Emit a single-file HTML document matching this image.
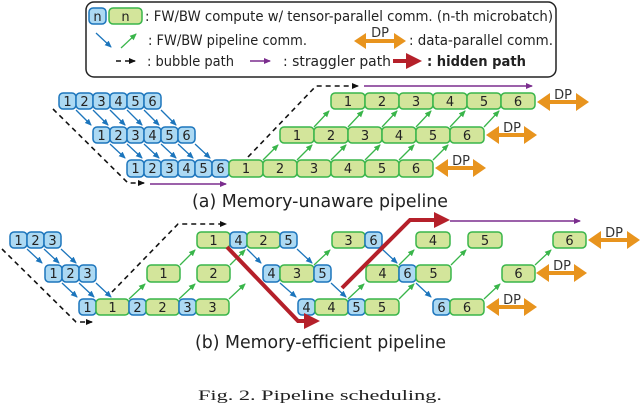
<!DOCTYPE html>
<html><head><meta charset="utf-8"><style>
html,body{margin:0;padding:0;background:#fff;width:640px;height:408px;overflow:hidden}
svg text{font-family:"DejaVu Sans","Liberation Sans",sans-serif}
.b{fill:#acd9f3;stroke:#1c75bc;stroke-width:1.5}
.g{fill:#d3e59b;stroke:#39b54a;stroke-width:1.5}
.t{font-size:13px;fill:#222;text-anchor:middle}
.ab{stroke:#1c75bc;stroke-width:1.3;fill:none;marker-end:url(#mb)}
.ag{stroke:#39b54a;stroke-width:1.3;fill:none;marker-end:url(#mg)}
.dp{fill:#e8941e}
.dpt{font-size:13px;fill:#333;text-anchor:middle}
.dash{stroke:#111;stroke-width:1.6;fill:none;stroke-dasharray:5 4;marker-end:url(#mk)}
.pu{stroke:#7b2d8e;stroke-width:1.4;fill:none;marker-end:url(#mp)}
.red{stroke:#b5202a;stroke-width:4;fill:none;stroke-linejoin:miter}
.lg{font-size:14px;fill:#222}
</style></head><body>
<svg width="640" height="408" viewBox="0 0 640 408" xmlns="http://www.w3.org/2000/svg">
<defs>
<marker id="mb" markerWidth="8" markerHeight="8" refX="6" refY="3" orient="auto" markerUnits="userSpaceOnUse"><path d="M0,0 L7,3 L0,6z" fill="#1c75bc"/></marker>
<marker id="mg" markerWidth="8" markerHeight="8" refX="6" refY="3" orient="auto" markerUnits="userSpaceOnUse"><path d="M0,0 L7,3 L0,6z" fill="#39b54a"/></marker>
<marker id="mk" markerWidth="8" markerHeight="8" refX="6" refY="3" orient="auto" markerUnits="userSpaceOnUse"><path d="M0,0 L7,3 L0,6z" fill="#111"/></marker>
<marker id="mp" markerWidth="8" markerHeight="8" refX="6" refY="3" orient="auto" markerUnits="userSpaceOnUse"><path d="M0,0 L7,3 L0,6z" fill="#7b2d8e"/></marker>
</defs>

<!-- Legend -->
<rect x="86" y="2" width="470" height="75" rx="8" fill="#fff" stroke="#222" stroke-width="1.5"/>
<rect class="b" x="89" y="8" width="17" height="16" rx="4"/><text class="t" x="97.5" y="21">n</text>
<rect class="g" x="109" y="8" width="33" height="16" rx="4"/><text class="t" x="125.5" y="21">n</text>
<text class="lg" x="145" y="21" textLength="408" lengthAdjust="spacingAndGlyphs">: FW/BW compute w/ tensor-parallel comm. (n-th microbatch)</text>
<line class="ab" x1="96" y1="33" x2="111" y2="47"/>
<line class="ag" x1="121" y1="48" x2="136" y2="34"/>
<text class="lg" x="148" y="45" textLength="159" lengthAdjust="spacingAndGlyphs">: FW/BW pipeline comm.</text>
<polygon class="dp" points="354,41 366,33 366,39 394,39 394,33 406,41 394,49 394,43 366,43 366,49"/>
<text class="dpt" x="380" y="37">DP</text>
<text class="lg" x="409" y="45" textLength="144" lengthAdjust="spacingAndGlyphs">: data-parallel comm.</text>
<line class="dash" x1="116" y1="61" x2="135" y2="61" stroke-dasharray="4 3"/>
<text class="lg" x="147" y="66" textLength="87" lengthAdjust="spacingAndGlyphs">: bubble path</text>
<line class="pu" x1="250" y1="61" x2="270" y2="61"/>
<text class="lg" x="283" y="66" textLength="108" lengthAdjust="spacingAndGlyphs">: straggler path</text>
<line x1="393" y1="61" x2="408" y2="61" stroke="#b5202a" stroke-width="4"/>
<polygon points="406,53 422,61 406,69" fill="#b5202a"/>
<text class="lg" x="427" y="66" font-weight="bold" textLength="99" lengthAdjust="spacingAndGlyphs">: hidden path</text>

<!-- (a) -->
<path class="dash" d="M53,109 L128,183 L144,183"/>
<line class="pu" x1="150" y1="184" x2="226" y2="184"/>
<path class="dash" d="M248,157 L316,86 L358,86"/>
<line class="pu" x1="364" y1="86" x2="532" y2="86"/>

<g>
<rect class="b" x="59" y="93" width="17" height="16" rx="4"/><text class="t" x="67.5" y="106">1</text>
<rect class="b" x="76" y="93" width="17" height="16" rx="4"/><text class="t" x="84.5" y="106">2</text>
<rect class="b" x="93" y="93" width="17" height="16" rx="4"/><text class="t" x="101.5" y="106">3</text>
<rect class="b" x="110" y="93" width="17" height="16" rx="4"/><text class="t" x="118.5" y="106">4</text>
<rect class="b" x="127" y="93" width="17" height="16" rx="4"/><text class="t" x="135.5" y="106">5</text>
<rect class="b" x="144" y="93" width="17" height="16" rx="4"/><text class="t" x="152.5" y="106">6</text>

<rect class="b" x="93" y="127" width="17" height="16" rx="4"/><text class="t" x="101.5" y="140">1</text>
<rect class="b" x="110" y="127" width="17" height="16" rx="4"/><text class="t" x="118.5" y="140">2</text>
<rect class="b" x="127" y="127" width="17" height="16" rx="4"/><text class="t" x="135.5" y="140">3</text>
<rect class="b" x="144" y="127" width="17" height="16" rx="4"/><text class="t" x="152.5" y="140">4</text>
<rect class="b" x="161" y="127" width="17" height="16" rx="4"/><text class="t" x="169.5" y="140">5</text>
<rect class="b" x="178" y="127" width="17" height="16" rx="4"/><text class="t" x="186.5" y="140">6</text>

<rect class="b" x="127" y="160" width="17" height="17" rx="4"/><text class="t" x="135.5" y="173">1</text>
<rect class="b" x="144" y="160" width="17" height="17" rx="4"/><text class="t" x="152.5" y="173">2</text>
<rect class="b" x="161" y="160" width="17" height="17" rx="4"/><text class="t" x="169.5" y="173">3</text>
<rect class="b" x="178" y="160" width="17" height="17" rx="4"/><text class="t" x="186.5" y="173">4</text>
<rect class="b" x="195" y="160" width="17" height="17" rx="4"/><text class="t" x="203.5" y="173">5</text>
<rect class="b" x="212" y="160" width="17" height="17" rx="4"/><text class="t" x="220.5" y="173">6</text>

<rect class="g" x="229" y="160" width="34" height="17" rx="4"/><text class="t" x="246" y="173">1</text>
<rect class="g" x="263" y="160" width="34" height="17" rx="4"/><text class="t" x="280" y="173">2</text>
<rect class="g" x="297" y="160" width="34" height="17" rx="4"/><text class="t" x="314" y="173">3</text>
<rect class="g" x="331" y="160" width="34" height="17" rx="4"/><text class="t" x="348" y="173">4</text>
<rect class="g" x="365" y="160" width="34" height="17" rx="4"/><text class="t" x="382" y="173">5</text>
<rect class="g" x="399" y="160" width="34" height="17" rx="4"/><text class="t" x="416" y="173">6</text>

<rect class="g" x="280" y="127" width="34" height="16" rx="4"/><text class="t" x="297" y="140">1</text>
<rect class="g" x="314" y="127" width="34" height="16" rx="4"/><text class="t" x="331" y="140">2</text>
<rect class="g" x="348" y="127" width="34" height="16" rx="4"/><text class="t" x="365" y="140">3</text>
<rect class="g" x="382" y="127" width="34" height="16" rx="4"/><text class="t" x="399" y="140">4</text>
<rect class="g" x="416" y="127" width="34" height="16" rx="4"/><text class="t" x="433" y="140">5</text>
<rect class="g" x="450" y="127" width="34" height="16" rx="4"/><text class="t" x="467" y="140">6</text>

<rect class="g" x="331" y="93" width="34" height="16" rx="4"/><text class="t" x="348" y="106">1</text>
<rect class="g" x="365" y="93" width="34" height="16" rx="4"/><text class="t" x="382" y="106">2</text>
<rect class="g" x="399" y="93" width="34" height="16" rx="4"/><text class="t" x="416" y="106">3</text>
<rect class="g" x="433" y="93" width="34" height="16" rx="4"/><text class="t" x="450" y="106">4</text>
<rect class="g" x="467" y="93" width="34" height="16" rx="4"/><text class="t" x="484" y="106">5</text>
<rect class="g" x="501" y="93" width="34" height="16" rx="4"/><text class="t" x="518" y="106">6</text>
</g>
<g>
<line class="ab" x1="76" y1="110" x2="91" y2="125"/><line class="ab" x1="93" y1="110" x2="108" y2="125"/><line class="ab" x1="110" y1="110" x2="125" y2="125"/><line class="ab" x1="127" y1="110" x2="142" y2="125"/><line class="ab" x1="144" y1="110" x2="159" y2="125"/><line class="ab" x1="161" y1="110" x2="176" y2="125"/>
<line class="ab" x1="110" y1="144" x2="125" y2="158"/><line class="ab" x1="127" y1="144" x2="142" y2="158"/><line class="ab" x1="144" y1="144" x2="159" y2="158"/><line class="ab" x1="161" y1="144" x2="176" y2="158"/><line class="ab" x1="178" y1="144" x2="193" y2="158"/><line class="ab" x1="195" y1="144" x2="210" y2="158"/>
<line class="ag" x1="263" y1="160" x2="278" y2="145"/><line class="ag" x1="297" y1="160" x2="312" y2="145"/><line class="ag" x1="331" y1="160" x2="346" y2="145"/><line class="ag" x1="365" y1="160" x2="380" y2="145"/><line class="ag" x1="399" y1="160" x2="414" y2="145"/><line class="ag" x1="433" y1="160" x2="448" y2="145"/>
<line class="ag" x1="314" y1="127" x2="329" y2="111"/><line class="ag" x1="348" y1="127" x2="363" y2="111"/><line class="ag" x1="382" y1="127" x2="397" y2="111"/><line class="ag" x1="416" y1="127" x2="431" y2="111"/><line class="ag" x1="450" y1="127" x2="465" y2="111"/><line class="ag" x1="484" y1="127" x2="499" y2="111"/>
</g>
<polygon class="dp" points="537,102 550,93 550,100 576,100 576,93 589,102 576,111 576,104 550,104 550,111"/><text class="dpt" x="563" y="99">DP</text>
<polygon class="dp" points="486,135 499,126 499,133 524,133 524,126 537,135 524,144 524,137 499,137 499,144"/><text class="dpt" x="512" y="132">DP</text>
<polygon class="dp" points="435,168 448,159 448,166 473,166 473,159 486,168 473,177 473,170 448,170 448,177"/><text class="dpt" x="461" y="165">DP</text>

<text x="192" y="207" font-size="18" fill="#222" textLength="256" lengthAdjust="spacingAndGlyphs">(a) Memory-unaware pipeline</text>

<!-- (b) -->
<path class="dash" d="M2,249 L76,322 L92,322"/>
<path class="dash" d="M112,292 L178,224 L226,224"/>
<g>
<rect class="b" x="10" y="232" width="17" height="16" rx="4"/><text class="t" x="18.5" y="245">1</text>
<rect class="b" x="27" y="232" width="17" height="16" rx="4"/><text class="t" x="35.5" y="245">2</text>
<rect class="b" x="44" y="232" width="17" height="16" rx="4"/><text class="t" x="52.5" y="245">3</text>
<rect class="g" x="197" y="232" width="33" height="16" rx="4"/><text class="t" x="213.5" y="245">1</text>
<rect class="b" x="230" y="232" width="17" height="16" rx="4"/><text class="t" x="238.5" y="245">4</text>
<rect class="g" x="247" y="232" width="33" height="16" rx="4"/><text class="t" x="263.5" y="245">2</text>
<rect class="b" x="280" y="232" width="17" height="16" rx="4"/><text class="t" x="288.5" y="245">5</text>
<rect class="g" x="332" y="232" width="33" height="16" rx="4"/><text class="t" x="348.5" y="245">3</text>
<rect class="b" x="365" y="232" width="17" height="16" rx="4"/><text class="t" x="373.5" y="245">6</text>
<rect class="g" x="416" y="232" width="34" height="16" rx="4"/><text class="t" x="433" y="245">4</text>
<rect class="g" x="468" y="232" width="34" height="16" rx="4"/><text class="t" x="485" y="245">5</text>
<rect class="g" x="553" y="232" width="33" height="16" rx="4"/><text class="t" x="569.5" y="245">6</text>

<rect class="b" x="45" y="265" width="17" height="17" rx="4"/><text class="t" x="53.5" y="278">1</text>
<rect class="b" x="62" y="265" width="17" height="17" rx="4"/><text class="t" x="70.5" y="278">2</text>
<rect class="b" x="79" y="265" width="17" height="17" rx="4"/><text class="t" x="87.5" y="278">3</text>
<rect class="g" x="147" y="265" width="33" height="17" rx="4"/><text class="t" x="163.5" y="278">1</text>
<rect class="g" x="197" y="265" width="33" height="17" rx="4"/><text class="t" x="213.5" y="278">2</text>
<rect class="b" x="263" y="265" width="17" height="17" rx="4"/><text class="t" x="271.5" y="278">4</text>
<rect class="g" x="280" y="265" width="34" height="17" rx="4"/><text class="t" x="297" y="278">3</text>
<rect class="b" x="314" y="265" width="17" height="17" rx="4"/><text class="t" x="322.5" y="278">5</text>
<rect class="g" x="366" y="265" width="33" height="17" rx="4"/><text class="t" x="382.5" y="278">4</text>
<rect class="b" x="399" y="265" width="17" height="17" rx="4"/><text class="t" x="407.5" y="278">6</text>
<rect class="g" x="416" y="265" width="35" height="17" rx="4"/><text class="t" x="433.5" y="278">5</text>
<rect class="g" x="502" y="265" width="33" height="17" rx="4"/><text class="t" x="518.5" y="278">6</text>

<rect class="b" x="79" y="299" width="17" height="16" rx="4"/><text class="t" x="87.5" y="312">1</text>
<rect class="g" x="96" y="299" width="33" height="16" rx="4"/><text class="t" x="112.5" y="312">1</text>
<rect class="b" x="129" y="299" width="17" height="16" rx="4"/><text class="t" x="137.5" y="312">2</text>
<rect class="g" x="146" y="299" width="33" height="16" rx="4"/><text class="t" x="162.5" y="312">2</text>
<rect class="b" x="179" y="299" width="17" height="16" rx="4"/><text class="t" x="187.5" y="312">3</text>
<rect class="g" x="196" y="299" width="33" height="16" rx="4"/><text class="t" x="212.5" y="312">3</text>
<rect class="b" x="298" y="299" width="17" height="16" rx="4"/><text class="t" x="306.5" y="312">4</text>
<rect class="g" x="315" y="299" width="33" height="16" rx="4"/><text class="t" x="331.5" y="312">4</text>
<rect class="b" x="348" y="299" width="17" height="16" rx="4"/><text class="t" x="356.5" y="312">5</text>
<rect class="g" x="365" y="299" width="34" height="16" rx="4"/><text class="t" x="382" y="312">5</text>
<rect class="b" x="433" y="299" width="17" height="16" rx="4"/><text class="t" x="441.5" y="312">6</text>
<rect class="g" x="450" y="299" width="34" height="16" rx="4"/><text class="t" x="467" y="312">6</text>
</g>
<g>
<line class="ab" x1="27" y1="249" x2="42" y2="263"/><line class="ab" x1="44" y1="249" x2="59" y2="263"/><line class="ab" x1="61" y1="249" x2="76" y2="263"/>
<line class="ab" x1="62" y1="283" x2="77" y2="297"/><line class="ab" x1="79" y1="283" x2="94" y2="297"/><line class="ab" x1="96" y1="283" x2="111" y2="297"/>
<line class="ab" x1="247" y1="249" x2="261" y2="263"/><line class="ab" x1="280" y1="283" x2="296" y2="297"/>
<line class="ab" x1="297" y1="249" x2="312" y2="263"/><line class="ab" x1="331" y1="283" x2="346" y2="297"/>
<line class="ab" x1="382" y1="249" x2="397" y2="263"/><line class="ab" x1="416" y1="283" x2="431" y2="297"/>
<line class="ag" x1="129" y1="299" x2="145" y2="284"/><line class="ag" x1="180" y1="265" x2="195" y2="250"/>
<line class="ag" x1="179" y1="299" x2="195" y2="284"/><line class="ag" x1="230" y1="265" x2="245" y2="250"/>
<line class="ag" x1="229" y1="299" x2="245" y2="284"/><line class="ag" x1="314" y1="265" x2="330" y2="250"/>
<line class="ag" x1="348" y1="299" x2="364" y2="284"/><line class="ag" x1="399" y1="265" x2="414" y2="250"/>
<line class="ag" x1="399" y1="299" x2="414" y2="284"/><line class="ag" x1="451" y1="265" x2="466" y2="250"/>
<line class="ag" x1="484" y1="299" x2="500" y2="284"/><line class="ag" x1="535" y1="265" x2="551" y2="250"/>
</g>
<path class="red" d="M227,247 L298,321 L306,321"/>
<polygon points="304,313 320,321 304,329" fill="#b5202a"/>
<path class="red" d="M342,288 L410,220 L436,220"/>
<polygon points="434,212 450,220 434,228" fill="#b5202a"/>
<line class="pu" x1="450" y1="221" x2="580" y2="221"/>

<polygon class="dp" points="588,240 601,231 601,238 627,238 627,231 640,240 627,249 627,242 601,242 601,249"/><text class="dpt" x="614" y="237">DP</text>
<polygon class="dp" points="536,273 549,264 549,271 574,271 574,264 587,273 574,282 574,275 549,275 549,282"/><text class="dpt" x="562" y="270">DP</text>
<polygon class="dp" points="486,307 499,298 499,305 524,305 524,298 537,307 524,316 524,309 499,309 499,316"/><text class="dpt" x="512" y="304">DP</text>

<text x="195" y="348" font-size="18" fill="#222" textLength="251" lengthAdjust="spacingAndGlyphs">(b) Memory-efficient pipeline</text>
<text x="198" y="400" font-size="15" fill="#222" font-family="Liberation Serif, serif" style="font-family:'Liberation Serif',serif" textLength="244" lengthAdjust="spacingAndGlyphs">Fig. 2.  Pipeline scheduling.</text>
</svg>
</body></html>
